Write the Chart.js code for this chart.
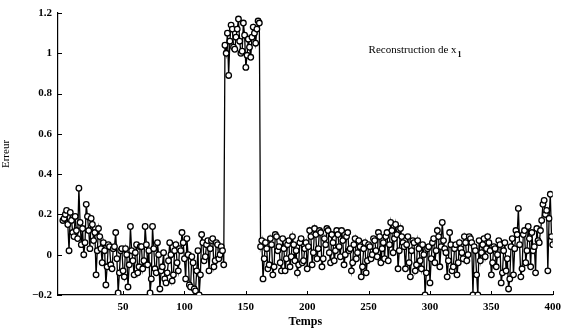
<!DOCTYPE html>
<html>
<head>
<meta charset="utf-8">
<script src="https://cdn.jsdelivr.net/npm/chart.js@4/dist/chart.umd.min.js"></script>
<style>
  html, body { margin: 0; padding: 0; background: #fff; }
  #errChart { display: block; }
</style>
</head>
<body>
<canvas id="errChart" width="567" height="329"></canvas>
<script>
// time steps 1..400
const temps = [];
for (let t = 1; t <= 400; t++) temps.push(t);

// reconstruction error, one row = 20 time steps
const erreur = [
    0.17, 0.18, 0.20, 0.22, 0.15, 0.02, 0.21, 0.17, 0.11, 0.09, 0.19, 0.12, 0.08, 0.33, 0.16, 0.05, 0.13, 0.00, 0.06, 0.25,
    0.19, 0.12, 0.03, 0.18, 0.15, 0.07, 0.11, -0.10, 0.02, 0.13, 0.09, 0.03, -0.04, 0.06, 0.02, -0.15, -0.06, 0.05, 0.04, -0.05,
    -0.07, 0.03, 0.04, 0.11, -0.02, -0.19, -0.09, 0.02, 0.03, -0.08, -0.11, 0.03, 0.00, -0.16, -0.05, 0.14, 0.02, -0.03, -0.10, 0.01,
    0.05, -0.09, -0.06, 0.04, 0.04, -0.07, -0.03, 0.14, 0.05, -0.05, 0.02, -0.19, -0.12, 0.14, 0.03, -0.07, -0.09, 0.06, 0.00, -0.17,
    -0.08, -0.06, 0.01, -0.12, -0.14, -0.09, -0.03, 0.06, 0.00, -0.13, -0.10, 0.02, 0.05, -0.04, -0.08, 0.03, 0.02, 0.11, 0.06, -0.02,
    -0.12, 0.08, 0.00, -0.15, -0.16, -0.01, -0.04, -0.17, -0.18, -0.08, 0.02, -0.20, -0.10, 0.10, 0.06, -0.03, -0.01, 0.05, 0.07, -0.08,
    0.03, 0.07, 0.08, -0.06, -0.03, 0.06, 0.05, -0.02, 0.00, 0.04, 0.02, -0.05, 1.04, 1.00, 1.10, 0.89, 1.06, 1.14, 1.12, 1.03,
    1.02, 1.08, 1.12, 1.17, 1.06, 1.00, 1.01, 1.15, 1.09, 0.93, 0.99, 1.07, 1.03, 0.98, 1.08, 1.13, 1.10, 1.05, 1.12, 1.16,
    1.15, 0.04, 0.07, -0.12, -0.02, 0.06, 0.03, -0.07, -0.05, 0.08, 0.05, -0.10, -0.06, 0.10, 0.09, 0.02, 0.04, -0.04, -0.08, 0.08,
    0.03, -0.08, -0.02, 0.05, 0.07, -0.06, -0.01, 0.09, 0.05, -0.03, 0.02, -0.09, -0.05, 0.06, 0.08, -0.04, -0.03, 0.03, 0.06, -0.07,
    0.04, 0.12, 0.09, -0.05, 0.01, 0.13, 0.10, -0.02, 0.03, 0.12, 0.11, -0.06, -0.02, 0.08, 0.05, 0.13, 0.12, 0.01, -0.04, 0.10,
    0.06, -0.03, 0.02, 0.12, 0.10, 0.04, -0.01, 0.12, 0.07, -0.05, 0.00, 0.09, 0.11, 0.02, 0.03, -0.08, -0.04, 0.05, 0.08, -0.02,
    0.01, 0.07, 0.04, -0.11, -0.06, 0.03, 0.06, -0.09, -0.03, 0.05, 0.04, -0.02, 0.00, 0.08, 0.07, 0.02, -0.01, 0.11, 0.09, -0.04,
    0.03, 0.06, -0.02, 0.09, 0.11, -0.03, 0.05, 0.16, 0.12, 0.01, 0.08, 0.15, 0.10, -0.07, 0.02, 0.13, 0.09, 0.06, 0.04, -0.07,
    0.05, 0.09, -0.04, -0.11, 0.02, 0.07, 0.06, -0.08, -0.05, 0.07, 0.03, -0.03, -0.07, 0.05, 0.00, -0.20, -0.09, 0.03, 0.04, -0.14,
    -0.02, 0.06, 0.08, -0.04, 0.02, 0.12, 0.09, -0.06, 0.04, 0.16, 0.07, 0.03, 0.01, -0.11, -0.03, 0.11, 0.05, -0.08, -0.06, 0.03,
    0.05, -0.10, -0.04, 0.06, 0.03, 0.01, -0.02, 0.09, 0.06, -0.03, 0.00, 0.09, 0.08, 0.06, -0.20, 0.04, 0.02, -0.10, -0.20, 0.07,
    -0.03, 0.01, 0.05, 0.08, -0.01, 0.03, 0.09, 0.06, 0.02, -0.10, -0.04, 0.04, 0.03, -0.06, 0.00, 0.07, 0.05, -0.14, -0.09, 0.02,
    0.06, -0.08, -0.02, -0.17, -0.12, 0.04, 0.08, -0.10, 0.03, 0.12, 0.10, 0.23, 0.05, -0.11, -0.07, 0.10, 0.12, -0.04, 0.02, 0.14,
    0.08, -0.06, 0.11, 0.02, 0.04, -0.09, 0.13, 0.07, 0.06, 0.12, 0.17, 0.25, 0.27, 0.20, 0.22, -0.08, 0.18, 0.30, 0.09, 0.05
];

const xTicks = [50, 100, 150, 200, 250, 300, 350, 400];
const yTicks = [-0.2, 0, 0.2, 0.4, 0.6, 0.8, 1, 1.2];

const serif = '"Liberation Serif", "DejaVu Serif", serif';

// inward tick marks + in-plot caption
const decorations = {
    id: 'decorations',
    afterDraw(chart) {
        const ctx = chart.ctx;
        const xs = chart.scales.x, ys = chart.scales.y;
        const area = chart.chartArea;
        ctx.save();
        ctx.strokeStyle = '#000';
        ctx.lineWidth = 1;
        ctx.beginPath();
        xTicks.forEach(v => {
            const px = Math.round(xs.getPixelForValue(v)) + 0.5;
            ctx.moveTo(px, area.bottom);
            ctx.lineTo(px, area.bottom - 4);
        });
        yTicks.forEach(v => {
            const py = Math.round(ys.getPixelForValue(v)) + 0.5;
            ctx.moveTo(area.left, py);
            ctx.lineTo(area.left + 4, py);
        });
        ctx.stroke();

        ctx.fillStyle = '#000';
        ctx.font = '11px ' + serif;
        ctx.textBaseline = 'alphabetic';
        const tx = xs.getPixelForValue(250);
        const ty = ys.getPixelForValue(1.0);
        ctx.fillText('Reconstruction de x', tx, ty);
        const w = ctx.measureText('Reconstruction de x').width;
        ctx.font = 'bold 8px ' + serif;
        ctx.fillText('1', tx + w + 1, ty + 4);
        ctx.restore();
    }
};

new Chart(document.getElementById('errChart'), {
    type: 'line',
    data: {
        labels: temps,
        datasets: [{
            data: temps.map((t, i) => ({ x: t, y: erreur[i] })),
            borderColor: '#000',
            borderWidth: 1.3,
            pointRadius: 2.8,
            pointBorderWidth: 1.3,
            pointBorderColor: '#000',
            pointBackgroundColor: '#fff',
            tension: 0,
            fill: false
        }]
    },
    options: {
        responsive: false,
        animation: false,
        events: [],
        layout: { padding: { top: 13, right: 0, left: 0, bottom: 0 } },
        plugins: { legend: { display: false }, tooltip: { enabled: false } },
        scales: {
            x: {
                type: 'linear',
                min: -3,
                max: 400,
                afterBuildTicks: axis => { axis.ticks = xTicks.map(v => ({ value: v })); },
                afterFit: axis => { axis.height = 34; },
                grid: { display: false, drawTicks: false },
                border: { display: true, color: '#000', width: 1.2 },
                ticks: {
                    color: '#000',
                    padding: 6,
                    maxRotation: 0,
                    font: { family: serif, size: 11, weight: 'bold' }
                },
                title: {
                    display: true,
                    text: 'Temps',
                    color: '#000',
                    padding: { top: 0, bottom: 0 },
                    font: { family: serif, size: 12, weight: 'bold' }
                }
            },
            y: {
                min: -0.2,
                max: 1.2,
                afterBuildTicks: axis => { axis.ticks = yTicks.map(v => ({ value: v })); },
                afterFit: axis => { axis.width = 58; },
                grid: { display: false, drawTicks: false },
                border: { display: true, color: '#000', width: 1.2 },
                ticks: {
                    color: '#000',
                    padding: 6,
                    font: { family: serif, size: 11, weight: 'bold' },
                    callback: v => (v < 0 ? '\u2212' : '') + String(Math.abs(Math.round(v * 10) / 10))
                },
                title: {
                    display: true,
                    text: 'Erreur',
                    color: '#000',
                    padding: { top: 0, bottom: 8 },
                    font: { family: serif, size: 11 }
                }
            }
        }
    },
    plugins: [decorations]
});
</script>
</body>
</html>
